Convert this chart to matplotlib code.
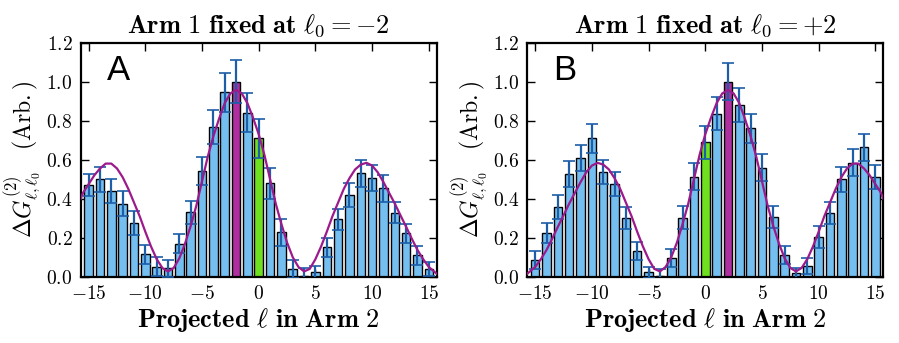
import numpy as np
import matplotlib
matplotlib.use("Agg")
import matplotlib.pyplot as plt

plt.rcParams['mathtext.fontset'] = 'cm'
plt.rcParams['font.family'] = 'serif'

#%% Data
ell = np.arange(-15, 16)

# Arm 1 fixed at l0 = -2
counts_a = [0.47, 0.50, 0.44, 0.375, 0.275, 0.115, 0.052, 0.043, 0.17, 0.33,
            0.54, 0.77, 0.945, 1.0, 0.84, 0.71, 0.48, 0.227, 0.039, 0.005,
            0.022, 0.15, 0.294, 0.419, 0.53, 0.508, 0.453, 0.328, 0.222, 0.109,
            0.038]
err_a = [0.056, 0.065, 0.062, 0.062, 0.06, 0.049, 0.047, 0.043, 0.05, 0.058,
         0.072, 0.087, 0.10, 0.11, 0.10, 0.10, 0.08, 0.07, 0.045, 0.04,
         0.035, 0.047, 0.055, 0.06, 0.068, 0.067, 0.068, 0.055, 0.05, 0.05,
         0.035]

# Arm 1 fixed at l0 = +2
counts_b = [0.085, 0.224, 0.359, 0.526, 0.609, 0.709, 0.535, 0.474, 0.299, 0.133,
            0.022, 0.005, 0.097, 0.303, 0.513, 0.689, 0.836, 1.0, 0.879, 0.761,
            0.559, 0.308, 0.111, 0.017, 0.055, 0.205, 0.326, 0.499, 0.585, 0.663,
            0.511]
err_b = [0.048, 0.053, 0.062, 0.067, 0.068, 0.075, 0.062, 0.062, 0.056, 0.047,
         0.03, 0.035, 0.047, 0.058, 0.07, 0.083, 0.083, 0.094, 0.088, 0.075,
         0.068, 0.056, 0.047, 0.03, 0.043, 0.056, 0.056, 0.064, 0.068, 0.071,
         0.06]

# fit curves, sampled from the figure
fit_x = [-15.7, -15.5, -15.0, -14.5, -14.0, -13.5, -13.0, -12.5, -12.0, -11.5,
         -11.0, -10.5, -10.0, -9.5, -9.0, -8.5, -8.0, -7.5, -7.0, -6.5,
         -6.0, -5.5, -5.0, -4.5, -4.0, -3.5, -3.0, -2.5, -2.0, -1.5,
         -1.0, -0.5, 0.0, 0.5, 1.0, 1.5, 2.0, 2.5, 3.0, 3.5,
         4.0, 4.5, 5.0, 5.5, 6.0, 6.5, 7.0, 7.5, 8.0, 8.5,
         9.0, 9.5, 10.0, 10.5, 11.0, 11.5, 12.0, 12.5, 13.0, 13.5,
         14.0, 14.5, 15.0, 15.5, 15.7]
fit_a = [0.40, 0.43, 0.475, 0.52, 0.555, 0.58, 0.58, 0.555, 0.51, 0.45,
         0.38, 0.31, 0.23, 0.155, 0.09, 0.045, 0.027, 0.045, 0.095, 0.17,
         0.26, 0.365, 0.49, 0.615, 0.72, 0.81, 0.89, 0.94, 0.957, 0.94,
         0.89, 0.815, 0.73, 0.625, 0.50, 0.375, 0.27, 0.175, 0.10, 0.05,
         0.027, 0.04, 0.09, 0.155, 0.23, 0.31, 0.38, 0.45, 0.505, 0.55,
         0.575, 0.584, 0.57, 0.535, 0.485, 0.43, 0.375, 0.315, 0.256, 0.195,
         0.137, 0.09, 0.05, 0.025, 0.015]
fit_b = [0.015, 0.025, 0.05, 0.09, 0.137, 0.195, 0.256, 0.315, 0.375, 0.43,
         0.485, 0.535, 0.57, 0.584, 0.575, 0.55, 0.505, 0.45, 0.38, 0.31,
         0.23, 0.155, 0.09, 0.04, 0.027, 0.05, 0.10, 0.175, 0.27, 0.375,
         0.50, 0.625, 0.73, 0.815, 0.89, 0.94, 0.957, 0.94, 0.89, 0.81,
         0.72, 0.615, 0.49, 0.365, 0.26, 0.17, 0.095, 0.045, 0.027, 0.045,
         0.09, 0.155, 0.23, 0.31, 0.38, 0.45, 0.51, 0.555, 0.58, 0.58,
         0.555, 0.52, 0.475, 0.43, 0.40]

fixed_a, fixed_b = -2, 2

#%% Plotting
bar_col = '#74bff0'
fix_col = '#b02fa0'
zero_col = '#6fe01f'
fit_col = '#9c1a8c'
err_col = '#1c5ea8'

fig = plt.figure(figsize=(8.99, 3.43), dpi=100)
ax1 = fig.add_axes([0.0898, 0.1933, 0.396, 0.6822])
ax2 = fig.add_axes([0.5865, 0.1933, 0.396, 0.6822])


def panel(ax, counts, err, fit, fixed, letter, title):
    colors = []
    for l in ell:
        if l == fixed:
            colors.append(fix_col)
        elif l == 0:
            colors.append(zero_col)
        else:
            colors.append(bar_col)
    ax.bar(ell, counts, width=0.75, color=colors, edgecolor='k', linewidth=1.0,
           zorder=2)
    eb = ax.errorbar(ell, counts, yerr=err, fmt='none', ecolor=err_col,
                     elinewidth=1.6, capsize=4.5, capthick=1.2, zorder=3)
    for cl in eb[1]:
        cl.set_color('#4f90d2')
    ax.plot(fit_x, fit, color=fit_col, lw=1.6, zorder=4)

    ax.set_xlim(-15.7, 15.7)
    ax.set_ylim(0, 1.2)
    xt = [-15, -10, -5, 0, 5, 10, 15]
    yt = [0.0, 0.2, 0.4, 0.6, 0.8, 1.0, 1.2]
    ax.set_xticks(xt)
    ax.set_xticklabels(['$%d$' % t for t in xt], fontsize=14)
    ax.set_yticks(yt)
    ax.set_yticklabels(['$%.1f$' % t for t in yt], fontsize=14)
    ax.tick_params(direction='in', top=True, right=True, length=6, width=1,
                   pad=6)
    for s in ax.spines.values():
        s.set_linewidth(1.6)

    ax.text(-13.4, 1.01, letter, fontsize=25, family='Liberation Sans')
    ax.set_title(title, fontsize=19, pad=7)
    ax.set_xlabel(r'$\mathbf{Projected}\ \ell\ \mathbf{in\ Arm\ 2}$',
                  fontsize=19, labelpad=2)
    ax.set_ylabel(r'$\Delta G^{(2)}_{\ell,\ell_0}\ \ \ \mathrm{(Arb.)}$',
                  fontsize=17, labelpad=2)


panel(ax1, counts_a, err_a, fit_a, fixed_a, 'A',
      r'$\mathbf{Arm\ 1\ fixed\ at}\ \ell_0=-2$')
panel(ax2, counts_b, err_b, fit_b, fixed_b, 'B',
      r'$\mathbf{Arm\ 1\ fixed\ at}\ \ell_0=+2$')

plt.savefig('out.png', dpi=100)
